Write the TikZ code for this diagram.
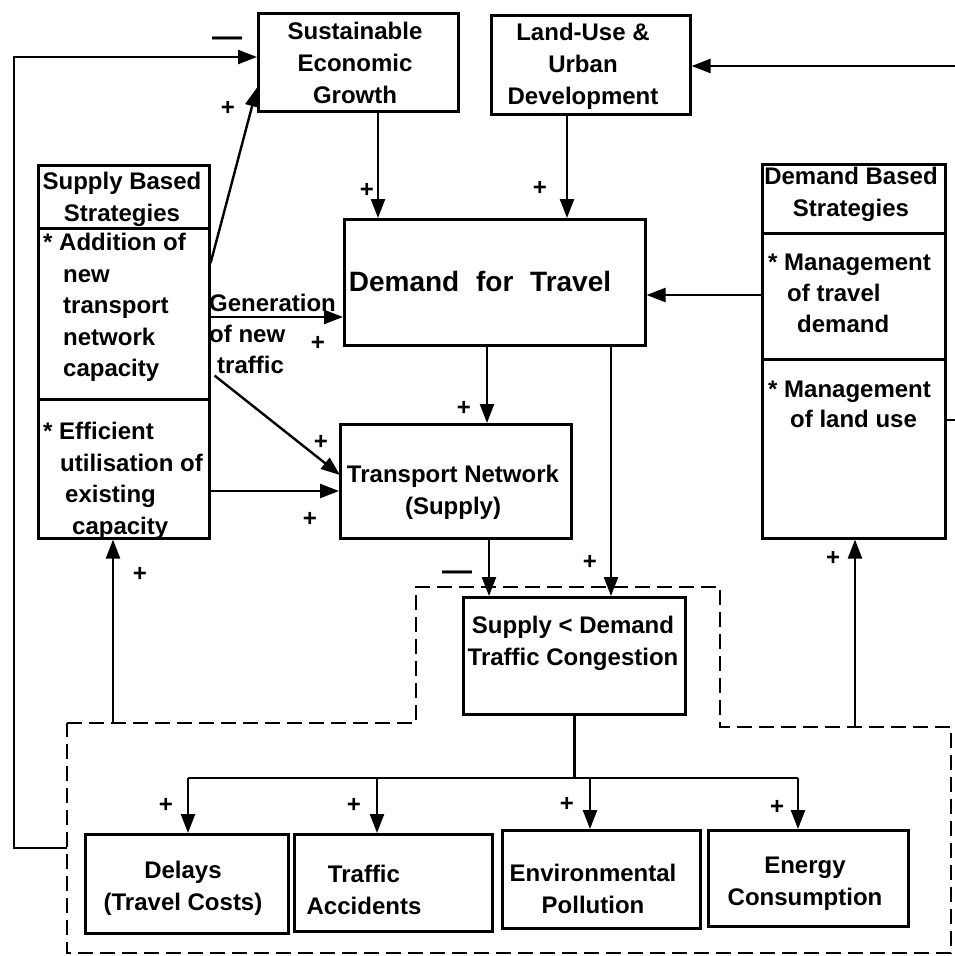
\documentclass[tikz,border=0pt]{standalone}
\usepackage{fontspec}
\setmainfont{Liberation Sans}
\usetikzlibrary{arrows.meta,calc}
\begin{document}
\begin{tikzpicture}[x=1pt,y=-1pt,
  box/.style={draw,line width=2.6pt,inner sep=0pt,anchor=north west},
  txt/.style={inner sep=0pt,font=\fontsize{24}{32}\selectfont\bfseries,align=center},
  ltxt/.style={inner sep=0pt,font=\fontsize{24}{31.5}\selectfont\bfseries,align=left,anchor=north west},
  lab/.style={inner sep=0pt,font=\fontsize{24}{24}\selectfont\bfseries},
  mlab/.style={inner sep=0pt,font=\fontsize{30}{30}\selectfont\bfseries},
  arr/.style={line width=2.4pt,-{Triangle[length=19pt,width=14pt]}},
  ln/.style={line width=2.4pt},
  dsh/.style={line width=2.8pt,dash pattern=on 15pt off 7pt}]
\useasboundingbox (0,0) rectangle (954,956);

% boxes
\node[box,minimum width=200pt,minimum height=98pt] (sus) at (257,12) {};
\node[box,minimum width=199pt,minimum height=99pt] (land) at (490,14) {};
\node[box,minimum width=301pt,minimum height=126pt] (dem) at (343,218) {};
\node[box,minimum width=231pt,minimum height=114pt] (tn) at (339,423) {};
\node[box,minimum width=222pt,minimum height=117pt] (cong) at (462,596) {};
\node[box,minimum width=171pt,minimum height=63pt] (sbsT) at (37,164) {};
\node[box,minimum width=171pt,minimum height=171pt] (sbs1) at (37,227) {};
\node[box,minimum width=171pt,minimum height=139pt] (sbs2) at (37,398) {};
\node[box,minimum width=183pt,minimum height=69pt] (dbsT) at (761,163) {};
\node[box,minimum width=183pt,minimum height=126pt] (dbs1) at (761,232) {};
\node[box,minimum width=183pt,minimum height=179pt] (dbs2) at (761,358) {};
\node[box,minimum width=203pt,minimum height=99pt] (b1) at (84,833) {};
\node[box,minimum width=198pt,minimum height=97pt] (b2) at (293,833) {};
\node[box,minimum width=198pt,minimum height=98pt] (b3) at (501,829) {};
\node[box,minimum width=200pt,minimum height=96pt] (b4) at (707,829) {};

% texts
\node[txt] (susX) at (355,63) {Sustainable\\Economic\\Growth};
\node[txt] (landX) at (583,66) {Land-Use \&\\Urban\\Development};
\node[txt,font=\fontsize{28}{32}\selectfont\bfseries] (demX) at (480,281) {Demand\hspace{0.6em}for\hspace{0.6em}Travel};
\node[txt] (tnX) at (453,492) {Transport Network\\(Supply)};
\node[txt] (congX) at (573,643) {Supply < Demand\\Traffic Congestion};
\node[txt] (b1X) at (183,888) {Delays\\(Travel Costs)};
\node[txt] (b2X) at (364,890) {Traffic\\Accidents};
\node[txt] (b3X) at (593,889) {Environmental\\Pollution};
\node[txt] (b4X) at (805,884) {Energy\\Consumption};
\node[txt] (sbsTX) at (122,199) {Supply Based\\Strategies};
\node[txt] (dbsTX) at (851,194) {Demand Based\\Strategies};
\node[ltxt] (sbs1X) at (43,233) {* Addition of\\\hspace*{20pt}new\\\hspace*{20pt}transport\\\hspace*{20pt}network\\\hspace*{20pt}capacity};
\node[ltxt] (sbs2X) at (43,422) {* Efficient\\\hspace*{17pt}utilisation of\\\hspace*{22pt}existing\\\hspace*{29pt}capacity};
\node[ltxt,font=\fontsize{24}{31}\selectfont\bfseries] (dbs1X) at (768,254) {* Management\\\hspace*{19pt}of travel\\\hspace*{29pt}demand};
\node[ltxt,font=\fontsize{24}{30}\selectfont\bfseries] (dbs2X) at (768,381) {* Management\\\hspace*{22pt}of land use};
\node[ltxt,font=\fontsize{24}{31}\selectfont\bfseries] (genX) at (209,294) {Generation\\of new\\\hspace*{8pt}traffic};

% dashed boundary
\coordinate (d1) at (67,723);
\coordinate (d2) at (416,723);
\coordinate (d3) at (416,587);
\coordinate (d4) at (720,587);
\coordinate (d5) at (720,727);
\coordinate (d6) at (951,727);
\coordinate (d7) at (951,953);
\coordinate (d8) at (67,953);
\draw[dsh] (d1) -- (d2) -- (d3) -- (d4) -- (d5) -- (d6) -- (d7) -- (d8) -- cycle;

% guides
\coordinate (xA) at (378,0);
\coordinate (xB) at (567,0);
\coordinate (xC) at (487,0);
\coordinate (xD) at (489,0);
\coordinate (xE) at (611,0);
\coordinate (xS) at (113,0);
\coordinate (xR) at (855,0);
\coordinate (yG) at (0,317);
\coordinate (yE) at (0,491);
\coordinate (yM) at (0,295);
\coordinate (yT) at (0,778);
\coordinate (xb1) at (188,0);
\coordinate (xb2) at (377,0);
\coordinate (xb3) at (590,0);
\coordinate (xb4) at (798,0);
\coordinate (lx) at (14,0);
\coordinate (rx) at (958,0);
\coordinate (ls) at (67,848);
\coordinate (sA) at ($(sus.north west)+(0,45)$);
\coordinate (rA) at ($(dbs2.north east)+(0,62)$);
\coordinate (lA) at ($(land.north east)+(0,52)$);

% connectors
\draw[arr] (ls) -- (ls -| lx) -- (lx |- sA) -- (sA);
\draw[arr] (rA) -- (rA -| rx) -- (rx |- lA) -- (lA);
\draw[arr] (sus.south -| xA) -- (dem.north -| xA);
\draw[arr] (land.south -| xB) -- (dem.north -| xB);
\draw[arr] (dem.south -| xC) -- (tn.north -| xC);
\draw[arr] (tn.south -| xD) -- (cong.north -| xD);
\draw[arr] (dem.south -| xE) -- (cong.north -| xE);
\draw[arr] ($(sbs1.north east)+(0,36)$) -- ($(sus.south west)+(0,-25)$);
\draw[arr] (sbs1.east |- yG) -- (dem.west |- yG);
\draw[arr] ($(sbs1.south east)+(4,-25)$) -- ($(tn.north west)+(1,52)$);
\draw[arr] (sbs2.east |- yE) -- (tn.west |- yE);
\draw[arr] (dbs1.west |- yM) -- (dem.east |- yM);
\draw[arr] (d1 -| xS) -- (sbs2.south -| xS);
\draw[arr] (d6 -| xR) -- (dbs2.south -| xR);
\draw[ln] (cong.south) -- (cong.south |- yT);
\draw[ln] (xb1 |- yT) -- (xb4 |- yT);
\draw[arr] (xb1 |- yT) -- (b1.north -| xb1);
\draw[arr] (xb2 |- yT) -- (b2.north -| xb2);
\draw[arr] (xb3 |- yT) -- (b3.north -| xb3);
\draw[arr] (xb4 |- yT) -- (b4.north -| xb4);

% signs
\node[mlab] (m1) at (227,41.5) {—};
\node[mlab] (m2) at (457,575.5) {—};
\node[lab] (p1) at (228,108) {+};
\node[lab] (p2) at (367,190) {+};
\node[lab] (p3) at (540,188) {+};
\node[lab] (p4) at (318,343) {+};
\node[lab] (p5) at (321,442) {+};
\node[lab] (p6) at (310,519) {+};
\node[lab] (p7) at (464,408) {+};
\node[lab] (p8) at (590,562) {+};
\node[lab] (p9) at (140,574) {+};
\node[lab] (p10) at (833,558) {+};
\node[lab] (p11) at (166,805) {+};
\node[lab] (p12) at (354,805) {+};
\node[lab] (p13) at (567,804) {+};
\node[lab] (p14) at (777,807) {+};
\end{tikzpicture}
\end{document}
